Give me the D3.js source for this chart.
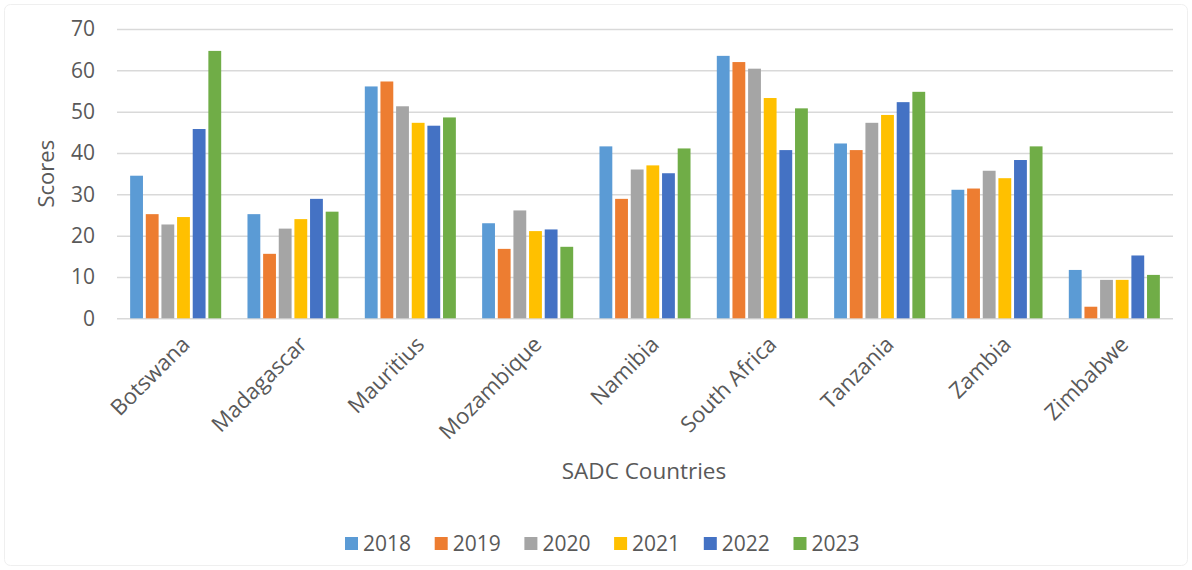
<!DOCTYPE html>
<html><head><meta charset="utf-8">
<script src="https://cdn.jsdelivr.net/npm/d3@7"></script>
<style>body{margin:0;background:#fff;} svg{display:block;} text{font-family:"Open Sans",sans-serif;fill:#595959;}</style>
</head><body>
<svg id="chart" width="1192" height="570"></svg>
<script>
const countries = ["Botswana","Madagascar","Mauritius","Mozambique","Namibia","South Africa","Tanzania","Zambia","Zimbabwe"];
const years = ["2018","2019","2020","2021","2022","2023"];
const v2018 = [34.5,25.2,56.1,23.0,41.6,63.5,42.3,31.1,11.7];
const v2019 = [25.2,15.6,57.3,16.8,28.9,62.0,40.7,31.4,2.8];
const v2020 = [22.7,21.7,51.3,26.1,36.0,60.4,47.3,35.7,9.3];
const v2021 = [24.5,24.0,47.3,21.1,37.0,53.3,49.2,33.9,9.3];
const v2022 = [45.8,28.9,46.6,21.5,35.1,40.7,52.3,38.3,15.2];
const v2023 = [64.7,25.8,48.6,17.3,41.1,50.8,54.8,41.6,10.5];
const yTicks = [0,10,20,30,40,50,60,70];
const colors = ["#5B9BD5","#ED7D31","#A5A5A5","#FFC000","#4472C4","#70AD47"];
const series = [v2018,v2019,v2020,v2021,v2022,v2023];

const svg = d3.select("#chart");
svg.append("rect").attr("x",4.5).attr("y",4.5).attr("width",1183).attr("height",561).attr("rx",6)
  .attr("fill","none").attr("stroke","#efefef");

const L=117, R=1173, T=29, B=318.3;
const x0 = d3.scaleBand().domain(countries).range([L,R]).paddingInner(0.224).paddingOuter(0.112);
const x1 = d3.scaleBand().domain(years).range([0,x0.bandwidth()]).paddingInner(0.18);
const y = d3.scaleLinear().domain([0,70]).range([B,T]);

const yAxis = svg.append("g").attr("transform",`translate(${L},0)`)
  .call(d3.axisLeft(y).tickValues(yTicks).tickSize(-(R-L)).tickPadding(22).tickFormat(d3.format("d")));
yAxis.select(".domain").remove();
yAxis.selectAll(".tick line").attr("stroke","#d9d9d9").attr("stroke-width",1.5);
yAxis.selectAll(".tick text").style("font-size","21px").attr("fill","#595959");

const g = svg.append("g");
countries.forEach((c,ci)=>{
  years.forEach((yr,si)=>{
    const v = series[si][ci];
    g.append("rect").attr("x",x0(c)+x1(yr)).attr("width",x1.bandwidth())
      .attr("y",y(v)).attr("height",y(0)-y(v)).attr("fill",colors[si]);
  });
});

const xAxis = svg.append("g").attr("transform",`translate(0,${B})`).call(d3.axisBottom(x0).tickSize(0).tickPadding(0));
xAxis.select(".domain").remove();
xAxis.selectAll(".tick text").style("font-size","22px")
  .attr("text-anchor","end").attr("transform","translate(10,22) rotate(-45)").attr("dy","0.35em");

svg.append("text").attr("transform",`translate(54,${(T+B)/2}) rotate(-90)`).attr("text-anchor","middle")
  .style("font-size","22px").text("Scores");
svg.append("text").attr("x",644).attr("y",479).attr("text-anchor","middle").style("font-size","22.5px").text("SADC Countries");

const lg = svg.append("g").attr("transform","translate(345,543.5)");
years.forEach((yr,i)=>{
  const it = lg.append("g").attr("transform",`translate(${i*89.7},0)`);
  it.append("rect").attr("x",0).attr("y",-6.5).attr("width",13).attr("height",13).attr("fill",colors[i]);
  it.append("text").attr("x",18).attr("y",0).attr("dy","0.35em").style("font-size","21px").text(yr);
});
</script>
</body></html>
